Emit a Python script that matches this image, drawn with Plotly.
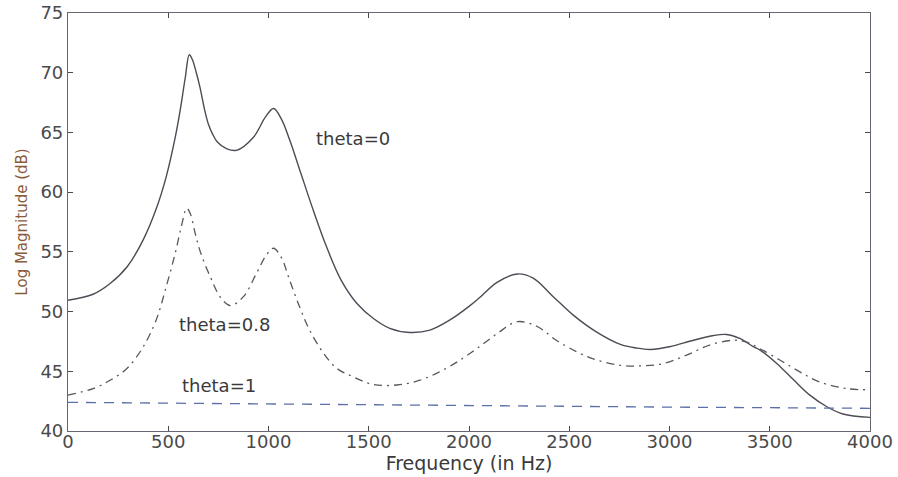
import plotly.graph_objects as go

# theta = 0 (solid)
freq_t0 = [0, 125, 210, 295, 375, 440, 490, 535, 560, 585, 605, 620, 640, 658, 680,
           700, 720, 745, 790, 840, 925, 985, 1025, 1065, 1105, 1155, 1225, 1290, 1360,
           1440, 1525, 1605, 1705, 1805, 1905, 2005, 2055, 2140, 2240, 2320, 2420,
           2520, 2635, 2755, 2835, 2905, 3000, 3120, 3220, 3285, 3350, 3420, 3450,
           3535, 3620, 3700, 3785, 3865, 4000]
mag_t0 = [50.95, 51.45, 52.35, 53.75, 56.0, 58.6, 61.3, 64.6, 66.9, 69.6, 71.5, 71.1,
          70.0, 68.8, 67.0, 65.7, 64.9, 64.2, 63.65, 63.5, 64.6, 66.3, 67.0, 66.1, 64.4,
          61.9, 58.4, 55.4, 52.7, 50.7, 49.4, 48.6, 48.25, 48.45, 49.3, 50.5, 51.2,
          52.45, 53.15, 52.8, 51.25, 49.7, 48.3, 47.25, 46.95, 46.83, 47.05, 47.6, 48.0,
          48.08, 47.75, 47.05, 46.8, 45.66, 44.26, 43.0, 42.03, 41.42, 41.14]

# theta = 0.8 (dash-dot)
freq_t08 = [0, 125, 210, 295, 375, 440, 490, 535, 565, 592, 610, 635, 660, 710, 760,
            810, 875, 940, 990, 1025, 1065, 1105, 1155, 1205, 1275, 1340, 1420, 1520,
            1640, 1755, 1870, 1970, 2055, 2140, 2240, 2340, 2435, 2535, 2635, 2755,
            2855, 2970, 3085, 3200, 3320, 3385, 3450, 3550, 3650, 3750, 3885, 4000]
mag_t08 = [43.0, 43.55, 44.25, 45.25, 47.05, 49.3, 52.1, 54.9, 57.1, 58.65, 58.2, 56.5,
           55.0, 52.9, 51.2, 50.5, 51.25, 53.2, 54.75, 55.3, 54.5, 52.65, 50.4, 48.45,
           46.5, 45.25, 44.55, 43.9, 43.85, 44.25, 45.1, 46.1, 47.1, 48.15, 49.15, 48.75,
           47.6, 46.65, 45.95, 45.5, 45.45, 45.65, 46.35, 47.2, 47.6, 47.45, 46.9, 45.95,
           44.95, 44.1, 43.55, 43.45]

# theta = 1 (dashed)
freq_t1 = [0, 1000, 2000, 3000, 4000]
mag_t1 = [42.4, 42.25, 42.15, 42.0, 41.9]

labels = ["theta=0", "theta=0.8", "theta=1"]
label_x = [1420, 780, 755]
label_y = [64.5, 48.9, 43.8]

fig = go.Figure()
fig.add_trace(go.Scatter(x=freq_t0, y=mag_t0, mode="lines", line_shape="spline",
                         line=dict(color="#4f4a55", width=1.4)))
fig.add_trace(go.Scatter(x=freq_t08, y=mag_t08, mode="lines", line_shape="spline",
                         line=dict(color="#5a5560", width=1.3, dash="8px,5px,2px,5px")))
fig.add_trace(go.Scatter(x=freq_t1, y=mag_t1, mode="lines",
                         line=dict(color="#5b6fa8", width=1.3, dash="10px,8px")))

for txt, x, y in zip(labels, label_x, label_y):
    fig.add_annotation(x=x, y=y, text=txt, showarrow=False,
                       font=dict(family="DejaVu Sans", size=18, color="#3a3a3a"))

axis_style = dict(showgrid=False, zeroline=False, showline=True, linecolor="#6a6470",
                  linewidth=1.2, mirror="ticks", ticks="inside", ticklen=5,
                  tickcolor="#4a4a4a", automargin=False,
                  tickfont=dict(family="DejaVu Sans", size=18, color="#4a4a4a"))

fig.update_xaxes(range=[0, 4000], dtick=500, tick0=0, ticklabelstandoff=-6, **axis_style,
                 title=dict(text="Frequency (in Hz)", standoff=0,
                            font=dict(family="DejaVu Sans", size=19, color="#3a3a3a")))
fig.update_yaxes(range=[40, 75], dtick=5, tick0=40, **axis_style,
                 title=dict(text="Log Magnitude (dB)", standoff=9,
                            font=dict(family="DejaVu Sans", size=15, color="#8a5a3a")))

fig.update_layout(
    width=898, height=477,
    showlegend=False,
    plot_bgcolor="white", paper_bgcolor="white",
    margin=dict(l=68, r=28, t=13, b=46),
)

# drop the default 8px body margin so the figure fills the window
fig.write_html("out.html", config={"displayModeBar": False},
               post_script="document.body.style.margin='0px';")
